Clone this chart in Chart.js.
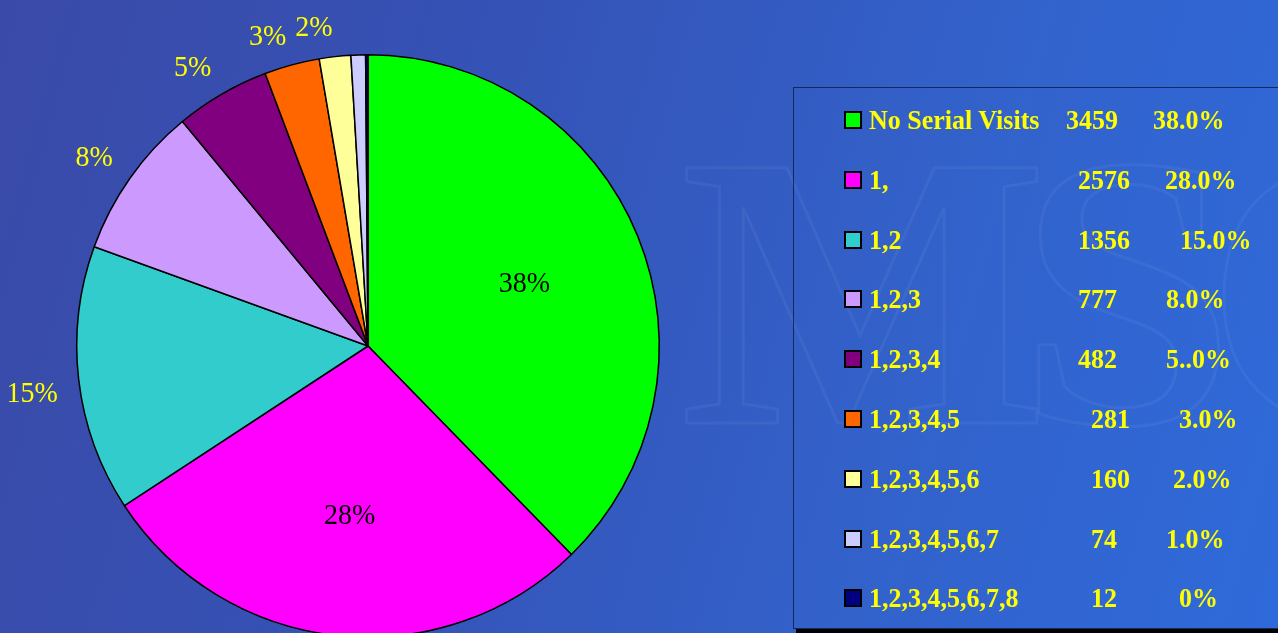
<!DOCTYPE html>
<html>
<head>
<meta charset="utf-8">
<script src="https://cdn.jsdelivr.net/npm/chart.js@4/dist/chart.umd.min.js"></script>
<style>
  html, body { margin: 0; padding: 0; width: 1278px; height: 633px; overflow: hidden; }
  body {
    position: relative;
    background: linear-gradient(105deg, #3a4aa8 0%, #3552b6 35%, #3360c8 65%, #2f6ada 100%);
  }
  .wm {
    position: absolute; font-family: "Liberation Serif", serif; font-weight: bold;
    color: transparent; -webkit-text-stroke: 3px rgba(255,255,255,0.05);
    font-size: 390px; line-height: 1; top: 96px; left: 680px; letter-spacing: -30px;
  }
  #wrap { position: absolute; left: 0; top: 0; width: 1278px; height: 700px; }
  #legendBox {
    position: absolute; left: 793px; top: 87px; width: 520px; height: 540px;
    border: 1px solid #16285e; box-shadow: 3px 5px 0 #000;
    font-family: "Liberation Serif", serif; font-weight: bold; font-size: 26px; color: #ffff00;
  }
  .row { position: absolute; left: 0; height: 30px; line-height: 30px; white-space: nowrap; }
  .sw { position: absolute; left: 50px; top: 6px; width: 14px; height: 14px; border: 2px solid #000; }
  .txt { position: absolute; transform: scaleY(1.08); }
</style>
</head>
<body>
<div class="wm">MSC</div>
<div id="wrap"><canvas id="pieChart" width="1278" height="700"></canvas></div>
<div id="legendBox"></div>
<script>
(function () {
    "use strict";

    // data
    const categories = ['No Serial Visits', '1,', '1,2', '1,2,3', '1,2,3,4', '1,2,3,4,5', '1,2,3,4,5,6', '1,2,3,4,5,6,7', '1,2,3,4,5,6,7,8'];
    const visits = [3459, 2576, 1356, 777, 482, 281, 160, 74, 12];
    const pctText = ['38.0%', '28.0%', '15.0%', '8.0%', '5..0%', '3.0%', '2.0%', '1.0%', '0%'];
    const sliceColors = ['#00ff00', '#ff00ff', '#33cccc', '#cc99ff', '#800080', '#ff6600', '#ffff99', '#ccccff', '#000080'];

    // legend column x offsets (the slide's tab stops are uneven)
    const numX = [272, 284, 284, 284, 284, 297, 297, 297, 297];
    const pctX = [359, 371, 386, 372, 372, 385, 379, 372, 385];

    const total = visits.reduce((a, b) => a + b, 0);

    // percent labels on / around the slices
    const sliceLabels = {
        id: 'sliceLabels',
        afterDatasetsDraw(chart) {
            const ctx = chart.ctx;
            const meta = chart.getDatasetMeta(0);
            const sy = 1.08;
            ctx.save();
            ctx.font = '28px "Liberation Serif", serif';
            ctx.textAlign = 'center';
            ctx.textBaseline = 'middle';
            meta.data.forEach((arc, i) => {
                const p = visits[i] / total * 100;
                if (p < 1.5) return;
                const a = (arc.startAngle + arc.endAngle) / 2;
                const txt = Math.round(p) + '%';
                let x, y;
                if (p > 20) {
                    const r = arc.outerRadius * 0.58;
                    x = arc.x + Math.cos(a) * r;
                    y = arc.y + Math.sin(a) * r;
                    ctx.fillStyle = '#000';
                } else {
                    // box corner sits just outside the rim
                    const r = arc.outerRadius + 21;
                    const w = ctx.measureText(txt).width;
                    x = arc.x + Math.cos(a) * r + Math.sign(Math.cos(a)) * w / 2;
                    y = arc.y + Math.sin(a) * r + Math.sign(Math.sin(a)) * 10;
                    ctx.fillStyle = '#ffff00';
                }
                ctx.save();
                ctx.translate(x, y + 2);
                ctx.scale(1, sy);
                ctx.fillText(txt, 0, 0);
                ctx.restore();
            });
            ctx.restore();
        }
    };

    const ctx = document.getElementById('pieChart').getContext('2d');
    new Chart(ctx, {
        type: 'pie',
        data: {
            labels: categories,
            datasets: [{
                data: visits,
                backgroundColor: sliceColors,
                borderColor: '#000',
                borderWidth: 1.5
            }]
        },
        options: {
            responsive: false,
            animation: false,
            layout: { padding: { left: 76, right: 618, top: 54, bottom: 62 } },
            plugins: {
                legend: { display: false },
                tooltip: { enabled: false }
            }
        },
        plugins: [sliceLabels]
    });

    // legend table
    const box = document.getElementById('legendBox');
    categories.forEach((name, i) => {
        const row = document.createElement('div');
        row.className = 'row';
        row.style.top = (17 + i * 59.8) + 'px';
        row.innerHTML =
            '<span class="sw" style="background:' + sliceColors[i] + '"></span>' +
            '<span class="txt" style="left:75px">' + name + '</span>' +
            '<span class="txt" style="left:' + numX[i] + 'px">' + visits[i] + '</span>' +
            '<span class="txt" style="left:' + pctX[i] + 'px">' + pctText[i] + '</span>';
        box.appendChild(row);
    });
})();
</script>
</body>
</html>
